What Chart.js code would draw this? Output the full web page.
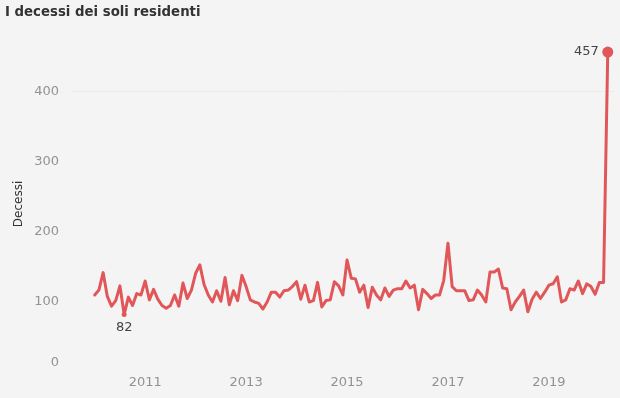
<!DOCTYPE html>
<html><head><meta charset="utf-8">
<script src="https://cdn.jsdelivr.net/npm/chart.js@4"></script>
<style>html,body{margin:0;padding:0;background:#f4f4f4;overflow:hidden;}</style>
</head><body>
<canvas id="c" width="620" height="398"></canvas>
<script>
// ---- data ----
const startYear = 2010; // first month = January 2010, monthly series
const deaths = [
  110,117,142,108,94,102,123,82,107,95,112,110,
  130,103,118,104,95,91,95,110,94,127,105,117,
  141,153,125,110,100,116,101,135,96,116,102,138,
  122,103,100,98,90,100,114,114,107,116,117,122,
  129,104,124,100,102,128,93,102,103,129,123,110,
  160,134,133,114,124,92,121,110,103,120,108,117,
  119,119,130,120,124,89,118,112,105,110,110,131,
  184,122,116,116,116,102,103,117,110,100,143,143,
  147,120,119,89,100,108,117,86,104,114,105,114,
  124,126,136,100,103,119,117,130,112,126,122,111,
  128,128,457
];
const xTickYears = [2011, 2013, 2015, 2017, 2019];
const yTickValues = [0, 100, 200, 300, 400];
const chartTitle = 'I decessi dei soli residenti';
const yAxisTitle = 'Decessi';

const points = deaths.map((v, i) => ({ x: startYear + i / 12, y: v }));
const lastIdx = deaths.length - 1;
const minIdx = deaths.indexOf(Math.min(...deaths));

const FONT = "'DejaVu Sans', sans-serif";
const RED = '#e15759';
const TICK = '#929292';

const annotate = {
  id: 'annotate',
  afterDraw(chart) {
    const ctx = chart.ctx;
    const meta = chart.getDatasetMeta(0);
    const pMin = meta.data[minIdx], pLast = meta.data[lastIdx];
    ctx.save();
    ctx.font = '13px ' + FONT;
    ctx.fillStyle = '#444';
    ctx.textBaseline = 'middle';
    ctx.textAlign = 'center';
    ctx.fillText(String(deaths[minIdx]), pMin.x, pMin.y + 13);
    ctx.textAlign = 'right';
    ctx.fillText(String(deaths[lastIdx]), pLast.x - 9, pLast.y);
    // zero label sits slightly above its baseline in the reference
    const ys = chart.scales.y;
    ctx.fillStyle = TICK;
    ctx.textAlign = 'right';
    ctx.fillText('0', ys.right - 13, ys.getPixelForValue(0) - 9);
    ctx.restore();
  }
};

new Chart(document.getElementById('c'), {
  type: 'line',
  data: {
    datasets: [{
      data: points,
      borderColor: RED,
      backgroundColor: RED,
      borderWidth: 3,
      tension: 0,
      borderJoinStyle: 'round',
      borderCapStyle: 'round',
      pointRadius: c => c.dataIndex === lastIdx ? 5.5 : (c.dataIndex === minIdx ? 2.5 : 0),
      pointHoverRadius: 0,
      pointBorderWidth: 0,
      clip: false
    }]
  },
  options: {
    responsive: false,
    animation: false,
    events: [],
    layout: { padding: { left: 5, right: 5, top: 0, bottom: 0 } },
    plugins: {
      legend: { display: false },
      tooltip: { enabled: false },
      title: {
        display: true, text: chartTitle, align: 'start', color: '#333',
        font: { family: FONT, size: 13.3, weight: 'bold' },
        padding: { top: 5, bottom: 15 }
      }
    },
    scales: {
      x: {
        type: 'linear', min: 2009.55, max: 2020.3,
        afterBuildTicks: s => { s.ticks = xTickYears.map(v => ({ value: v })); },
        afterFit: s => { s.height = 26; },
        grid: { display: false, drawTicks: false },
        border: { display: false },
        ticks: { color: TICK, padding: 3, maxRotation: 0, font: { family: FONT, size: 13 }, callback: v => String(v) }
      },
      y: {
        min: 0, max: 480,
        afterBuildTicks: s => { s.ticks = yTickValues.map(v => ({ value: v })); },
        afterFit: s => { s.width = 67; },
        grid: { drawTicks: false, color: c => (c.tick && c.tick.value === 400) ? '#ebebeb' : 'rgba(0,0,0,0)' },
        border: { display: false },
        ticks: { color: TICK, padding: 13, font: { family: FONT, size: 13 }, callback: v => v === 0 ? '' : String(v) },
        title: { display: true, text: yAxisTitle, color: '#333', font: { family: FONT, size: 12 }, padding: { top: 7, bottom: 0 } }
      }
    }
  },
  plugins: [annotate]
});
</script>
</body></html>
